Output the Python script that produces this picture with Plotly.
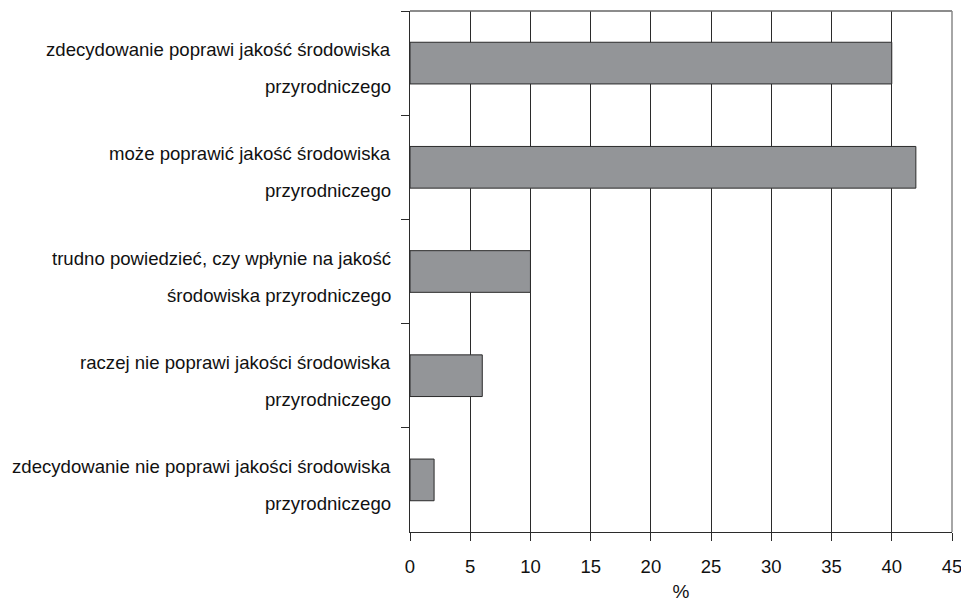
import plotly.graph_objects as go

categories = [
    "zdecydowanie poprawi jakość środowiska przyrodniczego",
    "może poprawić jakość środowiska przyrodniczego",
    "trudno powiedzieć, czy wpłynie na jakość środowiska przyrodniczego",
    "raczej nie poprawi jakości środowiska przyrodniczego",
    "zdecydowanie nie poprawi jakości środowiska przyrodniczego",
]
label_line1 = [
    "zdecydowanie poprawi jakość środowiska",
    "może poprawić jakość środowiska",
    "trudno powiedzieć, czy wpłynie na jakość",
    "raczej nie poprawi jakości środowiska",
    "zdecydowanie nie poprawi jakości środowiska",
]
label_line2 = [
    "przyrodniczego",
    "przyrodniczego",
    "środowiska przyrodniczego",
    "przyrodniczego",
    "przyrodniczego",
]
values = [40, 42, 10, 6, 2]
x_ticks = [0, 5, 10, 15, 20, 25, 30, 35, 40, 45]

FONT = "Liberation Sans, Arial, sans-serif"

fig = go.Figure(go.Bar(
    x=values, y=categories, orientation="h",
    marker=dict(color="#939598", line=dict(color="#2b2b2b", width=1)),
    width=0.4,
))

annotations = []
for cat, l1, l2 in zip(categories, label_line1, label_line2):
    annotations.append(dict(x=0, xref="paper", y=cat, yref="y", text=l1,
                            showarrow=False, xanchor="right", yanchor="middle",
                            xshift=-17, yshift=13.5,
                            font=dict(family=FONT, size=18.6, color="#111")))
    annotations.append(dict(x=0, xref="paper", y=cat, yref="y", text=l2,
                            showarrow=False, xanchor="right", yanchor="middle",
                            xshift=-17, yshift=-23.5,
                            font=dict(family=FONT, size=18.6, color="#111")))

fig.update_layout(
    width=961, height=602,
    margin=dict(l=410, r=9, t=11, b=70),
    paper_bgcolor="white", plot_bgcolor="white",
    showlegend=False,
    font=dict(family=FONT, color="#111"),
    annotations=annotations,
    xaxis=dict(
        range=[0, 45], tickvals=x_ticks, ticktext=[str(v) for v in x_ticks],
        showgrid=True, gridcolor="#2b2b2b", gridwidth=1,
        showline=True, linecolor="#2b2b2b", linewidth=1,
        ticks="outside", ticklen=8, tickcolor="#2b2b2b",
        tickfont=dict(family=FONT, size=18.5, color="#111"),
        ticklabelstandoff=10, ticklabeloverflow="allow",
        zeroline=False, automargin=False,
        title=dict(text="%", font=dict(family=FONT, size=19, color="#111"), standoff=10),
    ),
    yaxis=dict(
        categoryorder="array", categoryarray=categories, autorange="reversed",
        showticklabels=False, showgrid=False,
        showline=True, linecolor="#2b2b2b", linewidth=1,
        ticks="outside", ticklen=8, tickcolor="#2b2b2b", tickson="boundaries",
        zeroline=False, automargin=False,
    ),
    shapes=[
        dict(type="line", xref="paper", yref="paper", x0=0, x1=1, y0=1, y1=1,
             line=dict(color="#666666", width=1.5)),
        dict(type="line", xref="paper", yref="paper", x0=1, x1=1, y0=0, y1=1,
             line=dict(color="#888888", width=1.5)),
    ],
)

fig.write_html(
    "out.html",
    config={"displayModeBar": False},
    post_script="document.body.style.margin='0px';document.body.style.overflow='hidden';",
)
